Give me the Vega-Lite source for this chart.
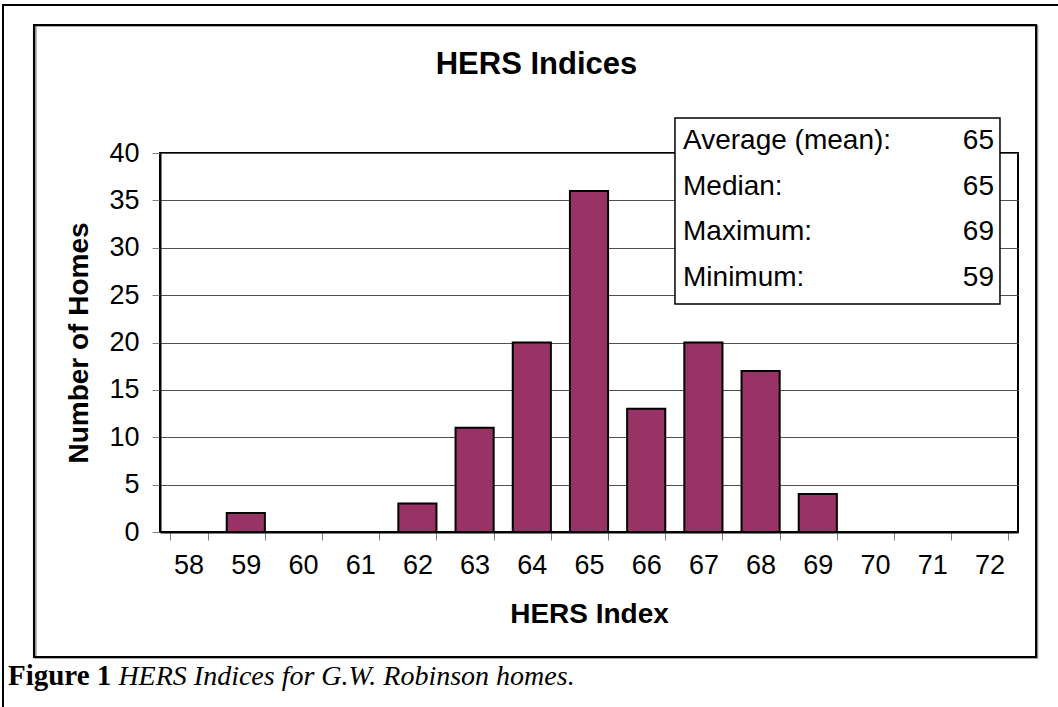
{
  "$schema": "https://vega.github.io/schema/vega-lite/v6.json",
  "width": 858,
  "height": 379,
  "autosize": {"type": "none"},
  "padding": {"left": 160, "top": 153, "right": 40, "bottom": 175},
  "background": "white",
  "config": {
    "font": "Liberation Sans",
    "view": {"stroke": "black", "strokeWidth": 2}
  },
  "datasets": {
    "bins": [
      {"index": 58, "homes": 0},
      {"index": 59, "homes": 2},
      {"index": 60, "homes": 0},
      {"index": 61, "homes": 0},
      {"index": 62, "homes": 3},
      {"index": 63, "homes": 11},
      {"index": 64, "homes": 20},
      {"index": 65, "homes": 36},
      {"index": 66, "homes": 13},
      {"index": 67, "homes": 20},
      {"index": 68, "homes": 17},
      {"index": 69, "homes": 4},
      {"index": 70, "homes": 0},
      {"index": 71, "homes": 0},
      {"index": 72, "homes": 0}
    ],
    "stats": [
      {"stat": "Average (mean):", "value": 65},
      {"stat": "Median:", "value": 65},
      {"stat": "Maximum:", "value": 69},
      {"stat": "Minimum:", "value": 59}
    ],
    "texts": [
      {"title": "HERS Indices", "figure": "Figure 1", "caption": "HERS Indices for G.W. Robinson homes."}
    ]
  },
  "layer": [
    {
      "data": {"name": "bins"},
      "mark": {"type": "bar", "fill": "#993366", "stroke": "black", "strokeWidth": 2},
      "encoding": {
        "x": {
          "field": "index",
          "type": "ordinal",
          "scale": {"paddingInner": 0.3333, "paddingOuter": 0.1667},
          "axis": {
            "title": "HERS Index",
            "titleFontSize": 28,
            "titleFontWeight": "bold",
            "titleColor": "black",
            "titleBaseline": "alphabetic",
            "titleY": 90,
            "labelAngle": 0,
            "labelFontSize": 27,
            "labelColor": "black",
            "labelBaseline": "alphabetic",
            "labelPadding": 33,
            "tickBand": "extent",
            "tickSize": 8,
            "tickColor": "#808080",
            "tickWidth": 1,
            "domainColor": "black",
            "domainWidth": 2,
            "grid": false
          }
        },
        "y": {
          "field": "homes",
          "type": "quantitative",
          "scale": {"domain": [0, 40], "nice": false},
          "axis": {
            "title": "Number of Homes",
            "titleFontSize": 28,
            "titleFontWeight": "bold",
            "titleColor": "black",
            "titleBaseline": "alphabetic",
            "titleAngle": -90,
            "titleX": -73,
            "values": [0, 5, 10, 15, 20, 25, 30, 35, 40],
            "labelFontSize": 27,
            "labelColor": "black",
            "labelPadding": 13,
            "tickSize": 8,
            "tickColor": "#808080",
            "tickWidth": 1,
            "domainColor": "black",
            "domainWidth": 2,
            "grid": true,
            "gridColor": "#505050",
            "gridWidth": 1
          }
        }
      }
    },
    {
      "layer": [
        {
          "data": {"name": "texts"},
          "layer": [
            {
              "mark": {"type": "rect", "fillOpacity": 0, "stroke": "black", "strokeWidth": 2, "clip": false},
              "encoding": {
                "x": {"datum": -18.3, "type": "quantitative", "scale": {"domain": [0, 100], "nice": false, "zero": false}, "axis": null},
                "x2": {"datum": 130},
                "y": {"datum": 139.05, "type": "quantitative", "scale": {"domain": [0, 100], "nice": false, "zero": false}, "axis": null},
                "y2": {"datum": -60}
              }
            },
            {
              "mark": {"type": "rect", "fillOpacity": 0, "stroke": "#909090", "strokeWidth": 2, "clip": false},
              "encoding": {
                "x": {"datum": -14.5, "type": "quantitative"},
                "x2": {"datum": 102.25},
                "y": {"datum": 133.6, "type": "quantitative"},
                "y2": {"datum": -33.15}
              }
            },
            {
              "mark": {"type": "rect", "fillOpacity": 0, "stroke": "black", "strokeWidth": 2, "clip": false},
              "encoding": {
                "x": {"datum": -14.69, "type": "quantitative"},
                "x2": {"datum": 102.1},
                "y": {"datum": 133.77, "type": "quantitative"},
                "y2": {"datum": -32.98}
              }
            },
            {
              "mark": {"type": "rect", "fill": "white", "stroke": "black", "strokeWidth": 1.5, "clip": false},
              "encoding": {
                "x": {"datum": 60.02, "type": "quantitative"},
                "x2": {"datum": 97.9},
                "y": {"datum": 109.23, "type": "quantitative"},
                "y2": {"datum": 60.16}
              }
            },
            {
              "mark": {"type": "text", "align": "center", "baseline": "alphabetic", "fontSize": 31, "fontWeight": "bold", "color": "black", "clip": false},
              "encoding": {
                "x": {"datum": 43.88, "type": "quantitative"},
                "y": {"datum": 120.84, "type": "quantitative"},
                "text": {"field": "title"}
              }
            },
            {
              "mark": {"type": "text", "align": "left", "baseline": "alphabetic", "font": "Liberation Serif", "fontSize": 29, "fontWeight": "bold", "color": "black", "clip": false},
              "encoding": {
                "x": {"datum": -17.72, "type": "quantitative"},
                "y": {"datum": -40.37, "type": "quantitative"},
                "text": {"field": "figure"}
              }
            },
            {
              "mark": {"type": "text", "align": "left", "baseline": "alphabetic", "font": "Liberation Serif", "fontSize": 28, "fontStyle": "italic", "color": "black", "clip": false},
              "encoding": {
                "x": {"datum": -4.85, "type": "quantitative"},
                "y": {"datum": -40.37, "type": "quantitative"},
                "text": {"field": "caption"}
              }
            }
          ]
        },
        {
          "data": {"name": "stats"},
          "layer": [
            {
              "mark": {"type": "text", "align": "left", "baseline": "alphabetic", "fontSize": 28, "color": "black", "clip": false},
              "encoding": {
                "x": {"datum": 60.96, "type": "quantitative"},
                "y": {"field": "stat", "type": "nominal", "sort": null, "scale": {"type": "point", "domain": ["Average (mean):", "Median:", "Maximum:", "Minimum:"], "range": [-4, 133], "padding": 0}, "axis": null},
                "text": {"field": "stat"}
              }
            },
            {
              "mark": {"type": "text", "align": "right", "baseline": "alphabetic", "fontSize": 28, "color": "black", "clip": false},
              "encoding": {
                "x": {"datum": 97.2, "type": "quantitative"},
                "y": {"field": "stat", "type": "nominal", "sort": null},
                "text": {"field": "value"}
              }
            }
          ]
        }
      ],
      "resolve": {"scale": {"y": "independent"}}
    }
  ],
  "resolve": {"scale": {"x": "independent", "y": "independent"}}
}
